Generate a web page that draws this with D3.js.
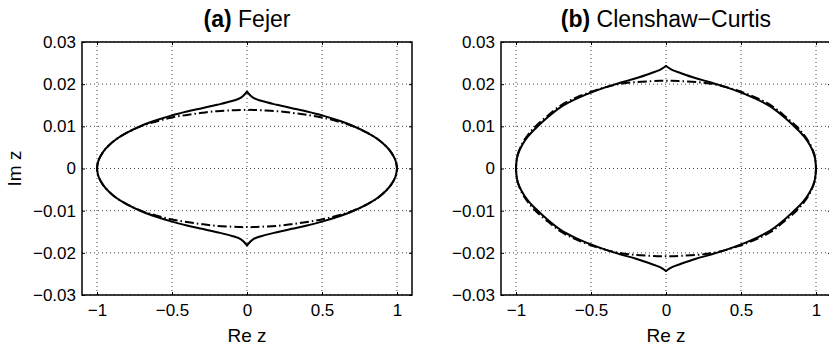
<!DOCTYPE html>
<html>
<head>
<meta charset="utf-8">
<script src="https://cdn.jsdelivr.net/npm/d3@7"></script>
<style>
  body { margin: 0; background: #fff; }
  svg { display: block; font-family: 'Liberation Sans', Arial, Helvetica, sans-serif; }
</style>
</head>
<body>
<div class="d3-content"></div>
<script>
// chart data
const xTicks = [-1, -0.5, 0, 0.5, 1];
const xTickLabels = ['\u22121', '\u22120.5', '0', '0.5', '1'];
const yTicks = [-0.03, -0.02, -0.01, 0, 0.01, 0.02, 0.03];
const yTickLabels = ['\u22120.03', '\u22120.02', '\u22120.01', '0', '0.01', '0.02', '0.03'];

const titleBold = ['(a)', '(b)'];
const titleText = [' Fejer', ' Clenshaw\u2212Curtis'];
const xLabel = 'Re z';
const yLabel = 'Im z';

// real parts of the sampled contour points
const reZ = [-1, -0.99, -0.96, -0.92, -0.87, -0.8, -0.7, -0.6, -0.5, -0.4, -0.3, -0.2, -0.1, -0.04, 0,
  0.04, 0.1, 0.2, 0.3, 0.4, 0.5, 0.6, 0.7, 0.8, 0.87, 0.92, 0.96, 0.99, 1];

// (a) Fejer
const fejerSolidUpper = [0, 0.0019, 0.0039, 0.0055, 0.0070, 0.0085, 0.0102, 0.0115, 0.0126, 0.0135, 0.0143, 0.0151, 0.0160, 0.0168, 0.0182,
  0.0168, 0.0160, 0.0151, 0.0143, 0.0135, 0.0126, 0.0115, 0.0102, 0.0085, 0.0070, 0.0055, 0.0039, 0.0019, 0];
const fejerSolidLower = [0, -0.0019, -0.0039, -0.0055, -0.0070, -0.0085, -0.0102, -0.0115, -0.0126, -0.0135, -0.0143, -0.0151, -0.0160, -0.0168, -0.0182,
  -0.0168, -0.0160, -0.0151, -0.0143, -0.0135, -0.0126, -0.0115, -0.0102, -0.0085, -0.0070, -0.0055, -0.0039, -0.0019, 0];
const fejerDashUpper = [0, 0.0019, 0.0039, 0.0055, 0.0070, 0.0085, 0.0101, 0.0112, 0.0121, 0.0127, 0.0132, 0.0136, 0.0138, 0.0139, 0.0139,
  0.0139, 0.0138, 0.0136, 0.0132, 0.0127, 0.0121, 0.0112, 0.0101, 0.0085, 0.0070, 0.0055, 0.0039, 0.0019, 0];
const fejerDashLower = [0, -0.0019, -0.0039, -0.0055, -0.0070, -0.0085, -0.0101, -0.0112, -0.0121, -0.0127, -0.0132, -0.0136, -0.0138, -0.0139, -0.0139,
  -0.0139, -0.0138, -0.0136, -0.0132, -0.0127, -0.0121, -0.0112, -0.0101, -0.0085, -0.0070, -0.0055, -0.0039, -0.0019, 0];

// (b) Clenshaw-Curtis
const ccSolidUpper = [0, 0.0030, 0.0055, 0.0076, 0.0095, 0.0118, 0.0146, 0.0165, 0.0180, 0.0193, 0.0204, 0.0214, 0.0226, 0.0234, 0.0243,
  0.0234, 0.0226, 0.0214, 0.0204, 0.0193, 0.0180, 0.0165, 0.0146, 0.0118, 0.0095, 0.0076, 0.0055, 0.0030, 0];
const ccSolidLower = [0, -0.0030, -0.0055, -0.0076, -0.0095, -0.0118, -0.0146, -0.0165, -0.0180, -0.0193, -0.0204, -0.0214, -0.0226, -0.0234, -0.0243,
  -0.0234, -0.0226, -0.0214, -0.0204, -0.0193, -0.0180, -0.0165, -0.0146, -0.0118, -0.0095, -0.0076, -0.0055, -0.0030, 0];
const ccDashUpper = [0, 0.0031, 0.0058, 0.0080, 0.0100, 0.0122, 0.0150, 0.0168, 0.0182, 0.0193, 0.0201, 0.0205, 0.0207, 0.0208, 0.0208,
  0.0208, 0.0207, 0.0205, 0.0201, 0.0193, 0.0182, 0.0168, 0.0150, 0.0122, 0.0100, 0.0080, 0.0058, 0.0031, 0];
const ccDashLower = [0, -0.0031, -0.0058, -0.0080, -0.0100, -0.0122, -0.0150, -0.0168, -0.0182, -0.0193, -0.0201, -0.0205, -0.0207, -0.0208, -0.0208,
  -0.0208, -0.0207, -0.0205, -0.0201, -0.0193, -0.0182, -0.0168, -0.0150, -0.0122, -0.0100, -0.0080, -0.0058, -0.0031, 0];

/************************/
/*      Dimensions      */
/************************/
const width = 829;
const height = 347;
const plotTop = 42;
const plotWidth = 330;
const plotHeight = 253;
const panelLefts = [82, 501];

const xScale = d3.scaleLinear().domain([-1.1, 1.1]).range([0, plotWidth]);
const yScale = d3.scaleLinear().domain([-0.03, 0.03]).range([plotHeight, 0]);

const svg = d3.select('.d3-content')
  .append('svg')
    .attr('width', width)
    .attr('height', height);

svg.append('rect')
  .attr('width', width)
  .attr('height', height)
  .attr('fill', '#fff');

const toPoints = (ys) => reZ.map((x, i) => [x, ys[i]]);
const line = d3.line()
  .x(d => xScale(d[0]))
  .y(d => yScale(d[1]))
  .curve(d3.curveCatmullRom.alpha(0.5));
const closedLine = d3.line()
  .x(d => xScale(d[0]))
  .y(d => yScale(d[1]))
  .curve(d3.curveCatmullRomClosed.alpha(0.5));

const drawPanel = (idx, solidUpper, solidLower, dashUpper, dashLower) => {
  const g = svg.append('g')
    .attr('transform', `translate(${panelLefts[idx]}, ${plotTop})`);

  // grid
  g.append('g')
    .selectAll('line')
    .data(xTicks)
    .join('line')
      .attr('x1', d => xScale(d))
      .attr('x2', d => xScale(d))
      .attr('y1', 0)
      .attr('y2', plotHeight)
      .attr('stroke', '#444')
      .attr('stroke-width', 1)
      .attr('stroke-dasharray', '1,3');
  g.append('g')
    .selectAll('line')
    .data(yTicks)
    .join('line')
      .attr('x1', 0)
      .attr('x2', plotWidth)
      .attr('y1', d => yScale(d))
      .attr('y2', d => yScale(d))
      .attr('stroke', '#444')
      .attr('stroke-width', 1)
      .attr('stroke-dasharray', '1,3');

  // axes
  const bottomAxis = d3.axisBottom(xScale)
    .tickValues(xTicks)
    .tickSize(-3)
    .tickPadding(9)
    .tickFormat((d, i) => xTickLabels[i]);
  const gx = g.append('g')
    .attr('transform', `translate(0, ${plotHeight})`)
    .call(bottomAxis);

  const leftAxis = d3.axisLeft(yScale)
    .tickValues(yTicks)
    .tickSize(-3)
    .tickPadding(6)
    .tickFormat((d, i) => yTickLabels[i]);
  const gy = g.append('g').call(leftAxis);

  g.append('g').call(d3.axisTop(xScale).tickValues(xTicks).tickSize(-3).tickFormat(''));
  g.append('g')
    .attr('transform', `translate(${plotWidth}, 0)`)
    .call(d3.axisRight(yScale).tickValues(yTicks).tickSize(-3).tickFormat(''));

  g.selectAll('.domain').remove();
  g.selectAll('.tick line').attr('stroke', '#000');
  [gx, gy].forEach(a => a.selectAll('text')
    .attr('font-size', 17)
    .attr('fill', '#000'));

  // box
  g.append('rect')
    .attr('width', plotWidth)
    .attr('height', plotHeight)
    .attr('fill', 'none')
    .attr('stroke', '#000')
    .attr('stroke-width', 1.5);

  // dash-dot contour
  const dashPts = toPoints(dashUpper)
    .concat(toPoints(dashLower).reverse().slice(1, -1));
  g.append('path')
    .attr('d', closedLine(dashPts))
    .attr('fill', 'none')
    .attr('stroke', '#000')
    .attr('stroke-width', 2)
    .attr('stroke-dasharray', '9,3,1.5,3');

  // solid contour, split at the cusps
  const mid = reZ.indexOf(0);
  const up = toPoints(solidUpper);
  const lo = toPoints(solidLower);
  [up.slice(0, mid + 1), up.slice(mid), lo.slice(0, mid + 1), lo.slice(mid)].forEach(arc => {
    g.append('path')
      .attr('d', line(arc))
      .attr('fill', 'none')
      .attr('stroke', '#000')
      .attr('stroke-width', 2)
      .attr('stroke-linejoin', 'round')
      .attr('stroke-linecap', 'round');
  });

  // title
  const title = svg.append('text')
    .attr('x', panelLefts[idx] + xScale(0))
    .attr('y', 27)
    .attr('text-anchor', 'middle')
    .attr('font-size', 23);
  title.append('tspan').attr('font-weight', 'bold').text(titleBold[idx]);
  title.append('tspan').text(titleText[idx]);

  // x label
  svg.append('text')
    .text(xLabel)
    .attr('x', panelLefts[idx] + xScale(0))
    .attr('y', 342)
    .attr('text-anchor', 'middle')
    .attr('font-size', 19);
};

drawPanel(0, fejerSolidUpper, fejerSolidLower, fejerDashUpper, fejerDashLower);
drawPanel(1, ccSolidUpper, ccSolidLower, ccDashUpper, ccDashLower);

svg.append('text')
  .text(yLabel)
  .attr('transform', `translate(21, ${plotTop + plotHeight / 2}) rotate(-90)`)
  .attr('text-anchor', 'middle')
  .attr('font-size', 19);
</script>
</body>
</html>
